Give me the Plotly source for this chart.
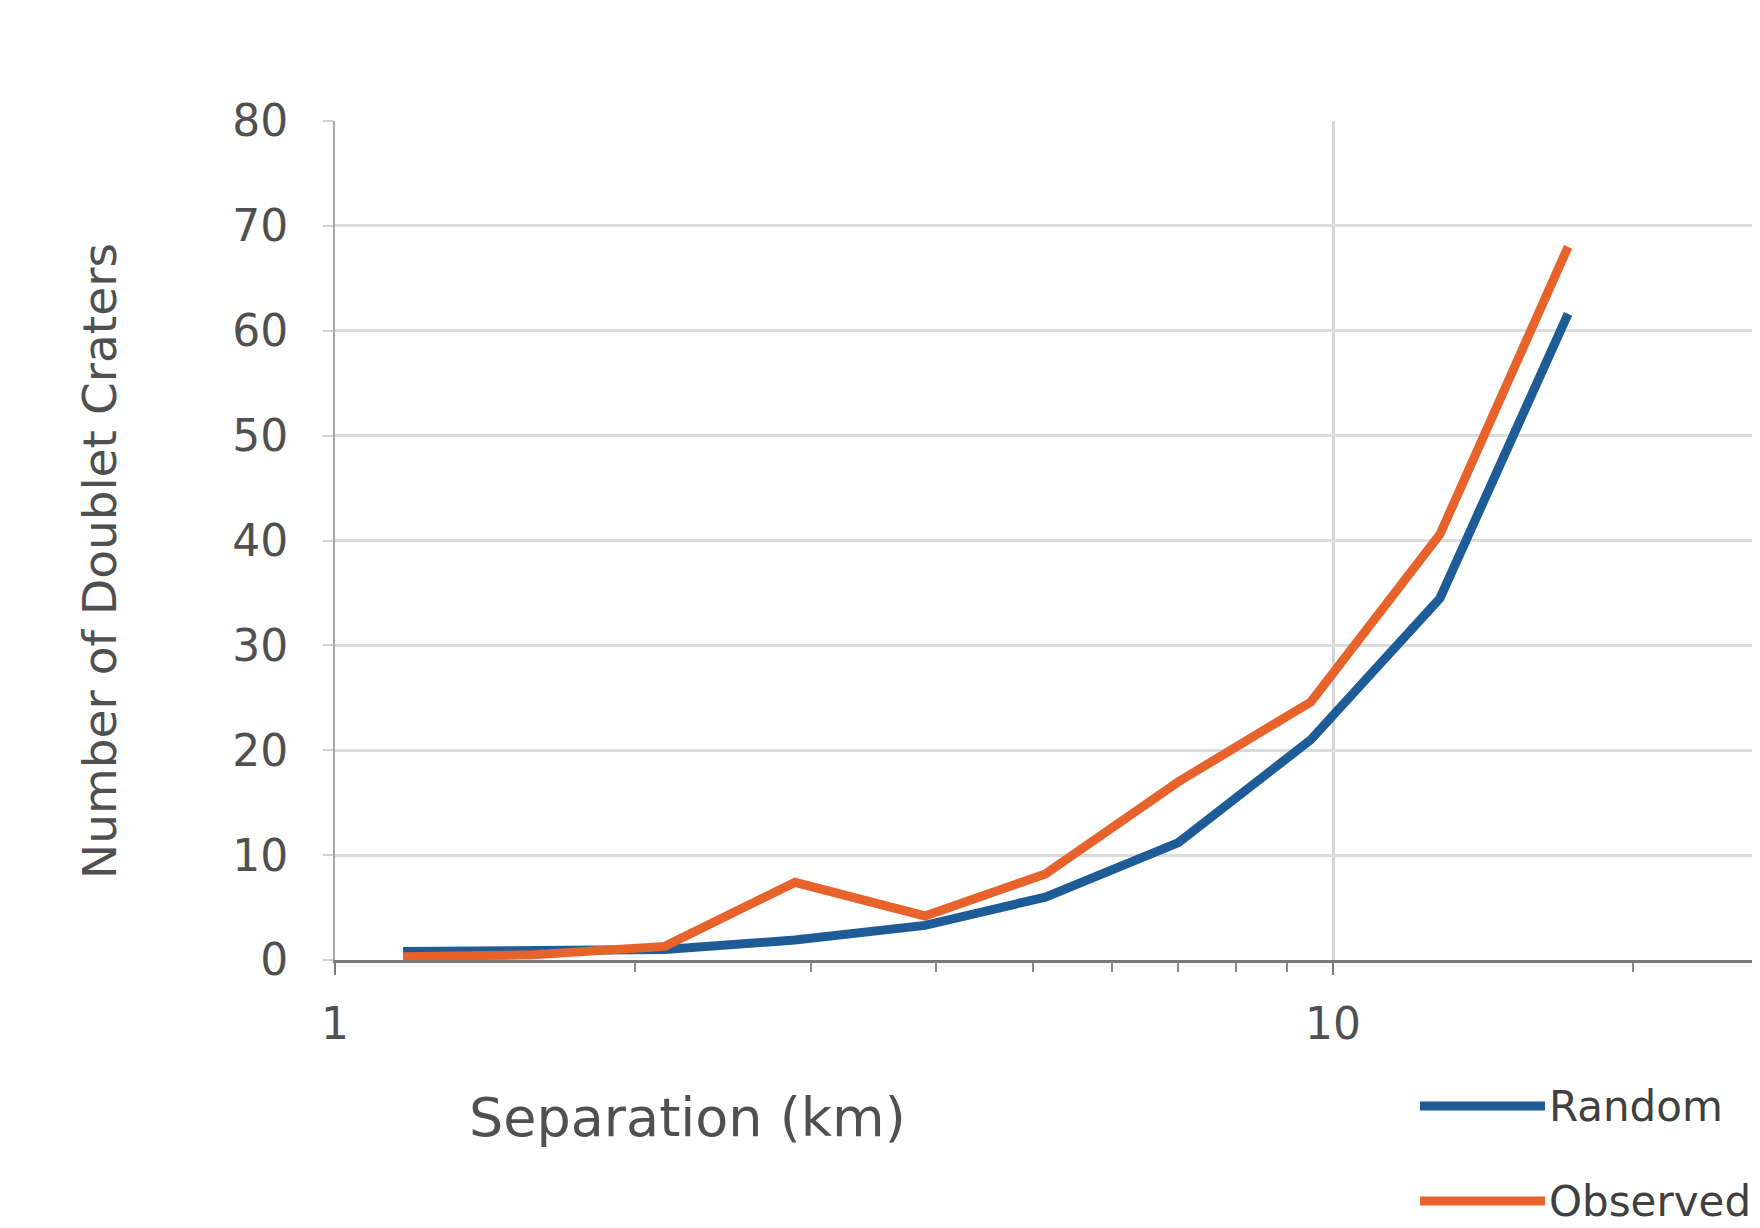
import plotly.graph_objects as go

# ---- data ----
separation_km = [1.17, 1.58, 2.14, 2.89, 3.9, 5.15, 7.0, 9.5, 12.8, 17.2]
random_counts = [0.8, 0.8, 1.0, 1.9, 3.3, 6.0, 11.2, 21.0, 34.5, 61.6]
observed_counts = [0.3, 0.5, 1.3, 7.4, 4.2, 8.2, 17.0, 24.6, 40.6, 68.0]
series_names = ["Random", "Observed"]
series_colors = ["#1d5c96", "#e8622c"]
x_tick_vals = [1, 10]
x_tick_text = ["1", "10"]
x_minor_vals = [2, 3, 4, 5, 6, 7, 8, 9, 20]
y_tick_vals = [0, 10, 20, 30, 40, 50, 60, 70, 80]

FONT = "DejaVu Sans"
W, H = 1760, 1228
OFF = 8  # page body margin
L, T, B = 335 - OFF, 121 - OFF, 268 + OFF
PW, PH = W - L, H - T - B
DECADE = 998.0


def px_to_paper(xp, yp):
    # xp, yp are window pixel positions
    return (xp - OFF - L) / PW, (H - B - (yp - OFF)) / PH


fig = go.Figure()
for name, ys, col in zip(series_names, [random_counts, observed_counts], series_colors):
    fig.add_trace(go.Scatter(x=separation_km, y=ys, mode="lines", name=name,
                             line=dict(color=col, width=9), showlegend=False))

# manual legend (line samples + labels) at bottom right
legend_rows = [(1106, series_names[0], series_colors[0]), (1201, series_names[1], series_colors[1])]
for yp, name, col in legend_rows:
    x0, y0 = px_to_paper(1420, yp)
    x1, _ = px_to_paper(1545, yp)
    xt, _ = px_to_paper(1547, yp)
    fig.add_shape(type="line", xref="paper", yref="paper", x0=x0, x1=x1, y0=y0, y1=y0,
                  line=dict(color=col, width=9))
    fig.add_annotation(xref="paper", yref="paper", x=xt, y=y0, text=name, showarrow=False,
                       xanchor="left", yanchor="middle",
                       font=dict(family=FONT, size=42, color="#404040"))

# axis titles, placed where the reference has them
xt, yt = px_to_paper(687, 1117)
fig.add_annotation(xref="paper", yref="paper", x=xt, y=yt, text="Separation (km)",
                   showarrow=False, xanchor="center", yanchor="middle",
                   font=dict(family=FONT, size=54, color="#505050"))
xt, yt = px_to_paper(99, 561)
fig.add_annotation(xref="paper", yref="paper", x=xt, y=yt, text="Number of Doublet Craters",
                   showarrow=False, xanchor="center", yanchor="middle", textangle=-90,
                   font=dict(family=FONT, size=47, color="#505050"))

fig.update_layout(
    width=W, height=H,
    margin=dict(l=L, r=0, t=T, b=B, autoexpand=False),
    paper_bgcolor="white", plot_bgcolor="white",
    font=dict(family=FONT, color="#505050"),
    xaxis=dict(
        type="log", range=[0, PW / DECADE],
        tickmode="array", tickvals=x_tick_vals, ticktext=x_tick_text,
        showgrid=True, gridcolor="#d6d6d6", gridwidth=3,
        showline=True, linecolor="#7a7a7a", linewidth=3,
        ticks="outside", ticklen=12, tickwidth=2, tickcolor="#7a7a7a",
        ticklabelstandoff=11,
        tickfont=dict(family=FONT, size=44, color="#505050"),
        minor=dict(tickmode="array", tickvals=x_minor_vals, ticks="outside",
                   ticklen=9, tickwidth=2, tickcolor="#8a8a8a", showgrid=False),
        zeroline=False, automargin=False,
    ),
    yaxis=dict(
        range=[0, 80], tickmode="array", tickvals=y_tick_vals,
        showgrid=True, gridcolor="#dcdcdc", gridwidth=3,
        showline=True, linecolor="#a8a8a8", linewidth=2,
        ticks="outside", ticklen=10, tickwidth=2, tickcolor="#d0d0d0",
        ticklabelstandoff=26,
        tickfont=dict(family=FONT, size=44, color="#505050"),
        zeroline=False, automargin=False,
    ),
)

fig.write_html("out.html")
